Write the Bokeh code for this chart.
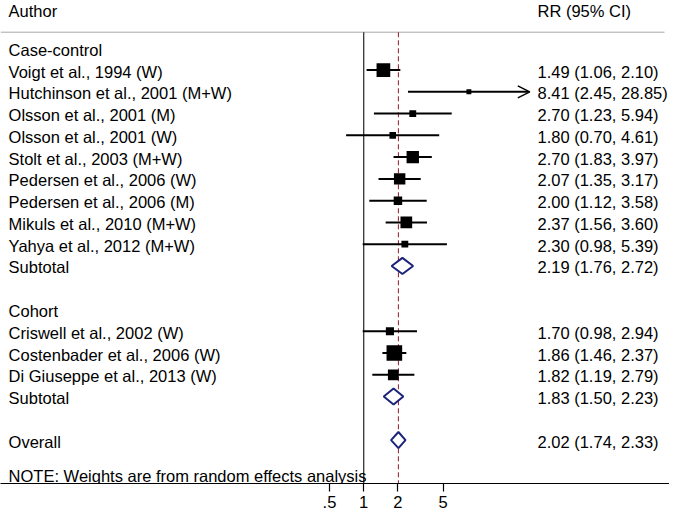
import math
from bokeh.plotting import figure
from bokeh.models import Range1d, FixedTicker, Arrow, OpenHead, ColumnDataSource
from bokeh.core.properties import value
from bokeh.embed import file_html
from bokeh.resources import INLINE

# ---------------- data ----------------
studies_cc = ["Voigt et al., 1994 (W)", "Hutchinson et al., 2001 (M+W)", "Olsson et al., 2001 (M)",
              "Olsson et al., 2001 (W)", "Stolt et al., 2003 (M+W)", "Pedersen et al., 2006 (W)",
              "Pedersen et al., 2006 (M)", "Mikuls et al., 2010 (M+W)", "Yahya et al., 2012 (M+W)"]
rr_cc = [1.49, 8.41, 2.70, 1.80, 2.70, 2.07, 2.00, 2.37, 2.30]
lo_cc = [1.06, 2.45, 1.23, 0.70, 1.83, 1.35, 1.12, 1.56, 0.98]
hi_cc = [2.10, 28.85, 5.94, 4.61, 3.97, 3.17, 3.58, 3.60, 5.39]
w_cc = [14.8, 1.9, 3.7, 3.4, 12.1, 10.3, 5.7, 10.8, 3.7]

studies_co = ["Criswell et al., 2002 (W)", "Costenbader et al., 2006 (W)", "Di Giuseppe et al., 2013 (W)"]
rr_co = [1.70, 1.86, 1.82]
lo_co = [0.98, 1.46, 1.19]
hi_co = [2.94, 2.37, 2.79]
w_co = [5.2, 19.3, 9.1]

subtotal_cc = [2.19, 1.76, 2.72]
subtotal_co = [1.83, 1.50, 2.23]
overall = [2.02, 1.74, 2.33]

group_names = ["Case-control", "Cohort"]
xticks = [0.5, 1, 2, 5]
xtick_labels = [".5", "1", "2", "5"]
note = "NOTE: Weights are from random effects analysis"

# ---------------- layout ----------------
W, H = 669, 510
FRAME_H = 480
PX_PER_LN = 49.4
X1_PX = 363.2          # pixel of RR = 1
ROW0_PX = 47.5
ROW_PX = 21.63
LEFT_PX = 8.1
RIGHT_PX = 537

def xd(px):
    return math.exp((px - X1_PX) / PX_PER_LN)

def yd(px):
    return (px - ROW0_PX) / ROW_PX

FONT = value("Liberation Sans")
FS = value("16.5px")
NAVY = "#1b2478"
MAROON = "#9a3340"
TEXT_DY = 0.07
ARROW_LIMIT = 25

x_left, x_right = xd(0), xd(W)
y_top, y_bot = yd(0), yd(FRAME_H)

p = figure(width=W, height=H, x_axis_type="log",
           x_range=Range1d(x_left, x_right), y_range=Range1d(y_bot, y_top),
           output_backend="svg", toolbar_location=None, y_axis_location=None,
           min_border=0, min_border_left=0, min_border_right=0, min_border_top=0,
           min_border_bottom=0)
p.grid.visible = False
p.outline_line_color = None
p.background_fill_color = "white"
p.border_fill_color = "white"

ax = p.xaxis[0]
ax.ticker = FixedTicker(ticks=xticks, minor_ticks=[])
ax.major_label_overrides = {t: l for t, l in zip(xticks, xtick_labels)}
ax.major_tick_in = 0
ax.major_tick_out = 8
ax.minor_tick_out = 0
ax.minor_tick_in = 0
ax.axis_line_color = "black"
ax.axis_line_width = 1.2
ax.major_tick_line_width = 1.2
ax.major_label_text_font = "Liberation Sans"
ax.major_label_text_font_size = "16.5px"
ax.major_label_text_color = "black"
ax.major_label_standoff = 4

# ---------------- rows ----------------
rows_left_txt, rows_left_y = [], []
rows_right_txt, rows_right_y = [], []
st_x, st_y, st_lo, st_hi, st_size = [], [], [], [], []
dia_xs, dia_ys = [], []

def fmt(e, l, h):
    return f"{e:.2f} ({l:.2f}, {h:.2f})"

def add_diamond(r, vals, label):
    e, l, h = vals
    hh = 8 / ROW_PX
    dia_xs.append([l, e, h, e])
    dia_ys.append([r, r - hh, r, r + hh])
    rows_left_txt.append(label)
    rows_left_y.append(r)
    rows_right_txt.append(fmt(e, l, h))
    rows_right_y.append(r)

r = 0
groups = [(group_names[0], studies_cc, rr_cc, lo_cc, hi_cc, w_cc, subtotal_cc),
          (group_names[1], studies_co, rr_co, lo_co, hi_co, w_co, subtotal_co)]
for gname, names, rr, lo, hi, w, sub in groups:
    rows_left_txt.append(gname)
    rows_left_y.append(r)
    r += 1
    for n, e, l, h, wt in zip(names, rr, lo, hi, w):
        rows_left_txt.append(n)
        rows_left_y.append(r)
        rows_right_txt.append(fmt(e, l, h))
        rows_right_y.append(r)
        st_x.append(e); st_y.append(r); st_lo.append(l); st_hi.append(h)
        st_size.append(3.56 * math.sqrt(wt))
        r += 1
    add_diamond(r, sub, "Subtotal")
    r += 2
add_diamond(r, overall, "Overall")

# header + rules
header_row = yd(10.7)
rule_row = yd(31.5)
note_row = yd(473)

p.segment(x0=[x_left], y0=[rule_row], x1=[xd(664)], y1=[rule_row], line_color="#a8a8a8", line_width=1)
p.segment(x0=[1], y0=[rule_row], x1=[1], y1=[y_bot], line_color="#333333", line_width=1.3)
p.segment(x0=[overall[0]], y0=[rule_row], x1=[overall[0]], y1=[y_bot], line_color=MAROON,
          line_width=1.1, line_dash="5 3")

# CIs
norm = [i for i in range(len(st_x)) if st_hi[i] <= ARROW_LIMIT]
trunc = [i for i in range(len(st_x)) if st_hi[i] > ARROW_LIMIT]
p.segment(x0=[st_lo[i] for i in norm], y0=[st_y[i] for i in norm],
          x1=[st_hi[i] for i in norm], y1=[st_y[i] for i in norm],
          line_color="black", line_width=2)
if trunc:
    asrc = ColumnDataSource(dict(x0=[st_lo[i] for i in trunc], y0=[st_y[i] for i in trunc],
                                 x1=[st_hi[i] for i in trunc], y1=[st_y[i] for i in trunc]))
    p.add_layout(Arrow(source=asrc, x_start="x0", y_start="y0", x_end="x1", y_end="y1",
                       line_width=2, line_color="black",
                       end=OpenHead(size=12, line_width=1.5, line_color="black")))
p.scatter(x=st_x, y=st_y, size=st_size, marker="square", fill_color="black",
          line_color="black", line_width=0)

p.patches(xs=dia_xs, ys=dia_ys, fill_color="white", line_color=NAVY, line_width=2)

# text
def txt(xs, ys, texts):
    p.text(x=xs, y=ys, text=texts, text_font=FONT, text_font_size=FS,
           text_baseline="middle", text_align="left", text_color="black")

txt([xd(LEFT_PX)] * len(rows_left_txt), [y + TEXT_DY for y in rows_left_y], rows_left_txt)
txt([xd(RIGHT_PX)] * len(rows_right_txt), [y + TEXT_DY for y in rows_right_y], rows_right_txt)
txt([xd(LEFT_PX), xd(RIGHT_PX)], [header_row, header_row], ["Author", "RR (95% CI)"])
txt([xd(LEFT_PX)], [note_row], [note])

open("out.html", "w").write(file_html(p, INLINE))
